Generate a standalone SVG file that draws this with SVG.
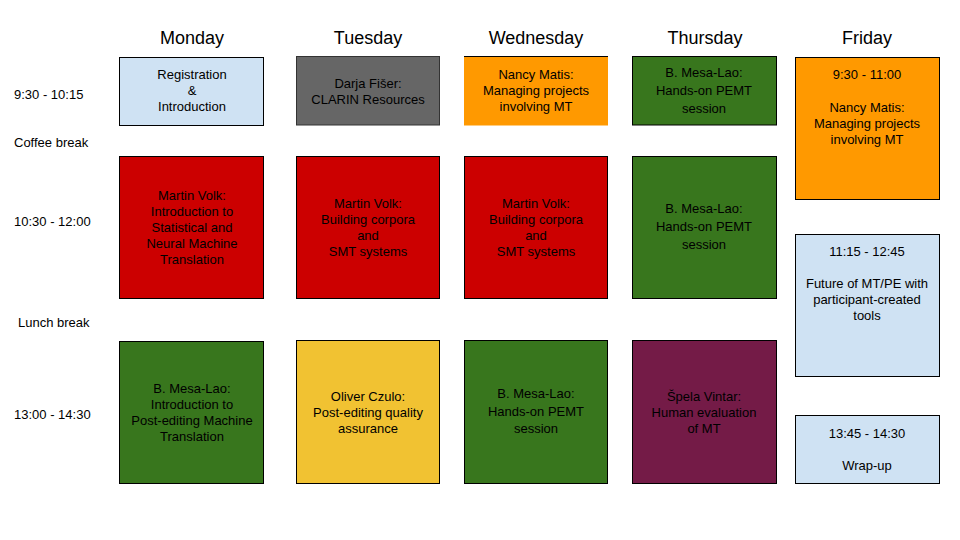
<svg xmlns="http://www.w3.org/2000/svg" width="960" height="540" viewBox="0 0 960 540">
<style>
text{font-family:"Liberation Sans",Arial,sans-serif;fill:#000}
.h{font-size:18px;text-anchor:middle}
.t{font-size:13px}
.b text{font-size:13px;text-anchor:middle}
.b rect{stroke:#000;stroke-width:1}
.blue{fill:#cfe2f3}.grey{fill:#666666}.orange{fill:#ff9900}.green{fill:#38761d}.red{fill:#cc0000}.yellow{fill:#f1c232}.maroon{fill:#741b47}
</style>
<rect width="960" height="540" fill="#fff"/>
<g id="headers">
<text class="h" x="192" y="44">Monday</text>
<text class="h" x="368" y="44">Tuesday</text>
<text class="h" x="536" y="44">Wednesday</text>
<text class="h" x="705" y="44">Thursday</text>
<text class="h" x="867" y="44">Friday</text>
</g>
<g id="times">
<text class="t" x="14" y="99">9:30 - 10:15</text>
<text class="t" x="14" y="147">Coffee break</text>
<text class="t" x="14" y="226">10:30 - 12:00</text>
<text class="t" x="18" y="327">Lunch break</text>
<text class="t" x="14" y="419">13:00 - 14:30</text>
</g>
<g id="mon1" class="b"><rect class="blue" x="119.5" y="57.5" width="144" height="68"/>
<text x="192" y="79">Registration</text><text x="192" y="95">&amp;</text><text x="192" y="111">Introduction</text></g>
<g id="mon2" class="b"><rect class="red" x="119.5" y="156.5" width="144" height="142"/>
<text x="192" y="200">Martin Volk:</text><text x="192" y="216">Introduction to</text><text x="192" y="232">Statistical and</text><text x="192" y="248">Neural Machine</text><text x="192" y="264">Translation</text></g>
<g id="mon3" class="b"><rect class="green" x="119.5" y="341.5" width="144" height="142"/>
<text x="192" y="393">B. Mesa-Lao:</text><text x="192" y="409">Introduction to</text><text x="192" y="425">Post-editing Machine</text><text x="192" y="441">Translation</text></g>
<g id="tue1" class="b"><rect class="grey" x="296.5" y="56.5" width="143" height="68.5" style="stroke:#333"/>
<text x="368" y="88">Darja Fišer:</text><text x="368" y="104">CLARIN Resources</text></g>
<g id="tue2" class="b"><rect class="red" x="296.5" y="156.5" width="143" height="142"/>
<text x="368" y="208">Martin Volk:</text><text x="368" y="224">Building corpora</text><text x="368" y="240">and</text><text x="368" y="256">SMT systems</text></g>
<g id="tue3" class="b"><rect class="yellow" x="296.5" y="340.5" width="143" height="143"/>
<text x="368" y="401">Oliver Czulo:</text><text x="368" y="417">Post-editing quality</text><text x="368" y="433">assurance</text></g>
<g id="wed1" class="b"><rect class="orange" x="464.5" y="56.5" width="143" height="68.5" style="stroke:#ff9900"/>
<line x1="464" y1="56.5" x2="608" y2="56.5" stroke="#000"/>
<text x="536" y="79">Nancy Matis:</text><text x="536" y="95">Managing projects</text><text x="536" y="111">involving MT</text></g>
<g id="wed2" class="b"><rect class="red" x="464.5" y="156.5" width="143" height="142"/>
<text x="536" y="208">Martin Volk:</text><text x="536" y="224">Building corpora</text><text x="536" y="240">and</text><text x="536" y="256">SMT systems</text></g>
<g id="wed3" class="b"><rect class="green" x="464.5" y="340.5" width="143" height="143"/>
<text x="536" y="398">B. Mesa-Lao:</text><text x="536" y="416">Hands-on PEMT</text><text x="536" y="433">session</text></g>
<g id="thu1" class="b"><rect class="green" x="632.5" y="56.5" width="144" height="68.5"/>
<text x="704" y="77">B. Mesa-Lao:</text><text x="704" y="95">Hands-on PEMT</text><text x="704" y="113">session</text></g>
<g id="thu2" class="b"><rect class="green" x="632.5" y="156.5" width="144" height="142"/>
<text x="704" y="213">B. Mesa-Lao:</text><text x="704" y="231">Hands-on PEMT</text><text x="704" y="249">session</text></g>
<g id="thu3" class="b"><rect class="maroon" x="632.5" y="340.5" width="144" height="143"/>
<text x="704" y="401">Špela Vintar:</text><text x="704" y="417">Human evaluation</text><text x="704" y="433">of MT</text></g>
<g id="fri1" class="b"><rect class="orange" x="795.5" y="57.5" width="144" height="142"/>
<text x="867" y="79">9:30 - 11:00</text><text x="867" y="112">Nancy Matis:</text><text x="867" y="128">Managing projects</text><text x="867" y="144">involving MT</text></g>
<g id="fri2" class="b"><rect class="blue" x="795.5" y="234.5" width="144" height="142"/>
<text x="867" y="256">11:15 - 12:45</text><text x="867" y="288">Future of MT/PE with</text><text x="867" y="304">participant-created</text><text x="867" y="320">tools</text></g>
<g id="fri3" class="b"><rect class="blue" x="795.5" y="415.5" width="144" height="68"/>
<text x="867" y="438">13:45 - 14:30</text><text x="867" y="470">Wrap-up</text></g>
<g id="connectors"></g>
</svg>
